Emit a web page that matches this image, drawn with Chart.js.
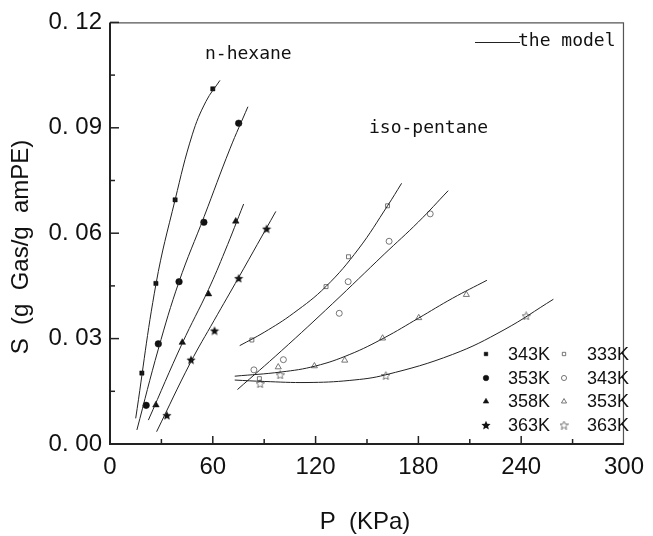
<!DOCTYPE html>
<html>
<head>
<meta charset="utf-8">
<script src="https://cdn.jsdelivr.net/npm/chart.js@4.4.0/dist/chart.umd.min.js"></script>
<style>
  html, body { margin: 0; padding: 0; background: #fff; }
</style>
</head>
<body>
<canvas id="solChart" width="653" height="536"></canvas>
<script>
// n-hexane, measured (filled markers)
var hexP343 = [18.6, 26.8, 38.0, 60.0];
var hexS343 = [0.0202, 0.0457, 0.0695, 0.1011];
var hexP353 = [21.1, 28.2, 40.3, 54.8, 75.1];
var hexS353 = [0.0110, 0.0285, 0.0462, 0.0631, 0.0913];
var hexP358 = [26.8, 42.2, 57.5, 73.4];
var hexS358 = [0.0111, 0.0289, 0.0427, 0.0634];
var hexP363 = [33.2, 47.3, 61.0, 75.1, 91.4];
var hexS363 = [0.0082, 0.0240, 0.0323, 0.0472, 0.0613];

// iso-pentane, measured (open markers)
var isoP333 = [82.8, 87.2, 126.1, 139.2, 162.0];
var isoS333 = [0.0296, 0.0186, 0.0448, 0.0533, 0.0678];
var isoP343 = [84.0, 101.2, 133.8, 139.0, 162.9, 186.9];
var isoS343 = [0.0211, 0.0240, 0.0372, 0.0462, 0.0577, 0.0655];
var isoP353 = [98.2, 119.3, 137.0, 159.1, 180.2, 208.0];
var isoS353 = [0.0219, 0.0222, 0.0238, 0.0301, 0.0359, 0.0425];
var isoP363 = [87.6, 99.3, 161.0, 242.9];
var isoS363 = [0.0172, 0.0197, 0.0195, 0.0365];

// model curves
var modHexP343 = [15.0, 26.9, 38.0, 48.0, 56.0, 64.2];
var modHexS343 = [0.0073, 0.0457, 0.0695, 0.0880, 0.0975, 0.1035];
var modHexP353 = [15.7, 28.2, 40.3, 55.0, 70.0, 80.5];
var modHexS353 = [0.0040, 0.0270, 0.0462, 0.0648, 0.0840, 0.0960];
var modHexP358 = [22.4, 42.2, 57.5, 67.1, 78.0];
var modHexS358 = [0.0068, 0.0287, 0.0440, 0.0549, 0.0683];
var modHexP363 = [27.2, 47.0, 60.8, 75.1, 96.8];
var modHexS363 = [0.0035, 0.0232, 0.0352, 0.0474, 0.0662];
var modIsoP333 = [75.7, 90, 107, 126, 145, 162, 170.2];
var modIsoS333 = [0.0280, 0.0318, 0.0372, 0.0448, 0.0555, 0.0678, 0.0742];
var modIsoP343 = [74.4, 100, 130, 160, 180, 197.4];
var modIsoS343 = [0.0155, 0.0265, 0.0400, 0.0540, 0.0632, 0.0721];
var modIsoP353 = [72.8, 100, 120, 140, 160, 180, 200, 220];
var modIsoS353 = [0.0193, 0.0205, 0.0222, 0.0255, 0.0302, 0.0358, 0.0415, 0.0466];
var modIsoP363 = [72.8, 90, 115, 140, 161, 200, 230, 258.8];
var modIsoS363 = [0.0182, 0.0178, 0.0175, 0.0181, 0.0197, 0.0255, 0.0325, 0.0412];

var hexLabels = ['343K', '353K', '358K', '363K'];
var isoLabels = ['333K', '343K', '353K', '363K'];

function pts(xs, ys) {
    return xs.map(function (x, i) { return { x: x, y: ys[i] }; });
}

function starImg(filled, size) {
    var c = document.createElement('canvas');
    c.width = size; c.height = size;
    var g = c.getContext('2d');
    g.beginPath();
    for (var i = 0; i < 10; i++) {
        var r = (i % 2 ? 0.22 : 0.48) * size;
        var a = -Math.PI / 2 + i * Math.PI / 5;
        var px = size / 2 + r * Math.cos(a), py = size / 2 + 0.5 + r * Math.sin(a);
        if (i === 0) g.moveTo(px, py); else g.lineTo(px, py);
    }
    g.closePath();
    if (filled) { g.fillStyle = '#111'; g.fill(); }
    else { g.strokeStyle = '#555'; g.lineWidth = 0.8; g.stroke(); }
    return c;
}

var filledStar = starImg(true, 10);
var openStar = starImg(false, 9);

function measured(label, xs, ys, style, filled, r) {
    return {
        label: label,
        data: pts(xs, ys),
        showLine: false,
        pointStyle: style,
        pointRadius: r,
        pointBackgroundColor: filled ? '#111' : 'rgba(0,0,0,0)',
        pointBorderColor: filled ? '#111' : '#555',
        pointBorderWidth: filled ? 0.5 : 0.8
    };
}

function model(xs, ys) {
    return {
        label: 'model',
        data: pts(xs, ys),
        showLine: true,
        pointRadius: 0,
        borderColor: '#222',
        borderWidth: 1,
        tension: 0.4
    };
}

var hexSets = [
    measured(hexLabels[0], hexP343, hexS343, 'rect', true, 3),
    measured(hexLabels[1], hexP353, hexS353, 'circle', true, 3.3),
    measured(hexLabels[2], hexP358, hexS358, 'triangle', true, 3.8),
    measured(hexLabels[3], hexP363, hexS363, filledStar, true, 4)
];
var isoSets = [
    measured(isoLabels[0], isoP333, isoS333, 'rect', false, 2.8),
    measured(isoLabels[1], isoP343, isoS343, 'circle', false, 3),
    measured(isoLabels[2], isoP353, isoS353, 'triangle', false, 3.5),
    measured(isoLabels[3], isoP363, isoS363, openStar, false, 4)
];

var datasets = [
    model(modHexP343, modHexS343), model(modHexP353, modHexS353),
    model(modHexP358, modHexS358), model(modHexP363, modHexS363),
    model(modIsoP333, modIsoS333), model(modIsoP343, modIsoS343),
    model(modIsoP353, modIsoS353), model(modIsoP363, modIsoS363)
].concat(hexSets, isoSets);

var decor = {
    id: 'decor',
    afterDraw: function (chart) {
        var ctx = chart.ctx, a = chart.chartArea;
        var xs = chart.scales.x, ys = chart.scales.y;
        ctx.save();

        // frame
        ctx.strokeStyle = '#555';
        ctx.lineWidth = 1.2;
        ctx.beginPath();
        ctx.moveTo(a.left, a.top + 0.5); ctx.lineTo(a.right - 0.5, a.top + 0.5);
        ctx.lineTo(a.right - 0.5, a.bottom);
        ctx.stroke();
        ctx.strokeStyle = '#222';
        ctx.lineWidth = 2;
        ctx.beginPath();
        ctx.moveTo(a.left, a.top); ctx.lineTo(a.left, a.bottom); ctx.lineTo(a.right, a.bottom);
        ctx.stroke();

        // inward ticks
        ctx.lineWidth = 1.5;
        xs.ticks.forEach(function (t, i) {
            var px = xs.getPixelForTick(i), len = i % 2 === 0 ? 8 : 5;
            if (i === 0 || i === xs.ticks.length - 1) return;
            ctx.beginPath(); ctx.moveTo(px, a.bottom); ctx.lineTo(px, a.bottom - len); ctx.stroke();
        });
        ys.ticks.forEach(function (t, i) {
            var py = ys.getPixelForTick(i), len = i % 2 === 0 ? 9 : 5;
            if (i === 0) return;
            ctx.beginPath(); ctx.moveTo(a.left, py); ctx.lineTo(a.left + len, py); ctx.stroke();
        });

        // annotations
        ctx.fillStyle = '#111';
        ctx.font = '18px "DejaVu Sans Mono"';
        ctx.textBaseline = 'middle';
        ctx.textAlign = 'left';
        ctx.fillText('n-hexane', 205, 54);
        ctx.fillText('iso-pentane', 369, 128);
        ctx.fillText('the model', 518, 41);
        ctx.strokeStyle = '#222';
        ctx.lineWidth = 1;
        ctx.beginPath(); ctx.moveTo(475, 42.5); ctx.lineTo(520, 42.5); ctx.stroke();

        // marker legend
        var rows = [354, 378, 401.5, 425];
        ctx.font = '18px "Liberation Sans"';
        hexSets.forEach(function (ds, i) {
            ctx.fillStyle = '#111'; ctx.strokeStyle = '#111'; ctx.lineWidth = 0.5;
            Chart.helpers.drawPoint(ctx, { pointStyle: ds.pointStyle, radius: ds.pointRadius * 0.85, rotation: 0, borderWidth: 0.5 }, 486, rows[i]);
            ctx.fillStyle = '#111';
            ctx.fillText(ds.label, 508, rows[i] + 1);
        });
        isoSets.forEach(function (ds, i) {
            ctx.fillStyle = 'rgba(0,0,0,0)'; ctx.strokeStyle = '#555'; ctx.lineWidth = 0.8;
            Chart.helpers.drawPoint(ctx, { pointStyle: ds.pointStyle, radius: ds.pointRadius * 0.85, rotation: 0, borderWidth: 0.8 }, 564, rows[i]);
            ctx.fillStyle = '#111';
            ctx.fillText(ds.label, 587, rows[i] + 1);
        });

        // axis titles
        ctx.font = '24px "Liberation Sans"';
        ctx.textAlign = 'center';
        ctx.fillText('P  (KPa)', 365, 522);
        ctx.translate(21, 247);
        ctx.rotate(-Math.PI / 2);
        ctx.fillText('S  (g  Gas/g  amPE)', 0, 0);
        ctx.restore();
    }
};

var solChart = new Chart(document.getElementById('solChart'), {
    type: 'scatter',
    data: { datasets: datasets },
    options: {
        responsive: false,
        animation: false,
        layout: { padding: { top: 20, right: 21, left: 0, bottom: 0 } },
        plugins: { legend: { display: false }, tooltip: { enabled: false } },
        scales: {
            x: {
                type: 'linear', min: 0, max: 300,
                grid: { display: false, drawTicks: false },
                border: { display: false },
                afterFit: function (s) { s.height = 92; },
                ticks: {
                    stepSize: 30, autoSkip: false, maxRotation: 0, padding: 9,
                    color: '#111', font: { family: 'Liberation Sans', size: 24 },
                    callback: function (v, i) { return i % 2 === 0 ? String(v) : ''; }
                }
            },
            y: {
                type: 'linear', min: 0, max: 0.12,
                grid: { display: false, drawTicks: false },
                border: { display: false },
                afterFit: function (s) { s.width = 110; },
                ticks: {
                    stepSize: 0.015, autoSkip: false, padding: 8,
                    color: '#111', font: { family: 'Liberation Sans', size: 24 },
                    callback: function (v, i) { return i % 2 === 0 ? v.toFixed(2).replace('.', '. ') : ''; }
                }
            }
        }
    },
    plugins: [decor]
});
</script>
</body>
</html>
